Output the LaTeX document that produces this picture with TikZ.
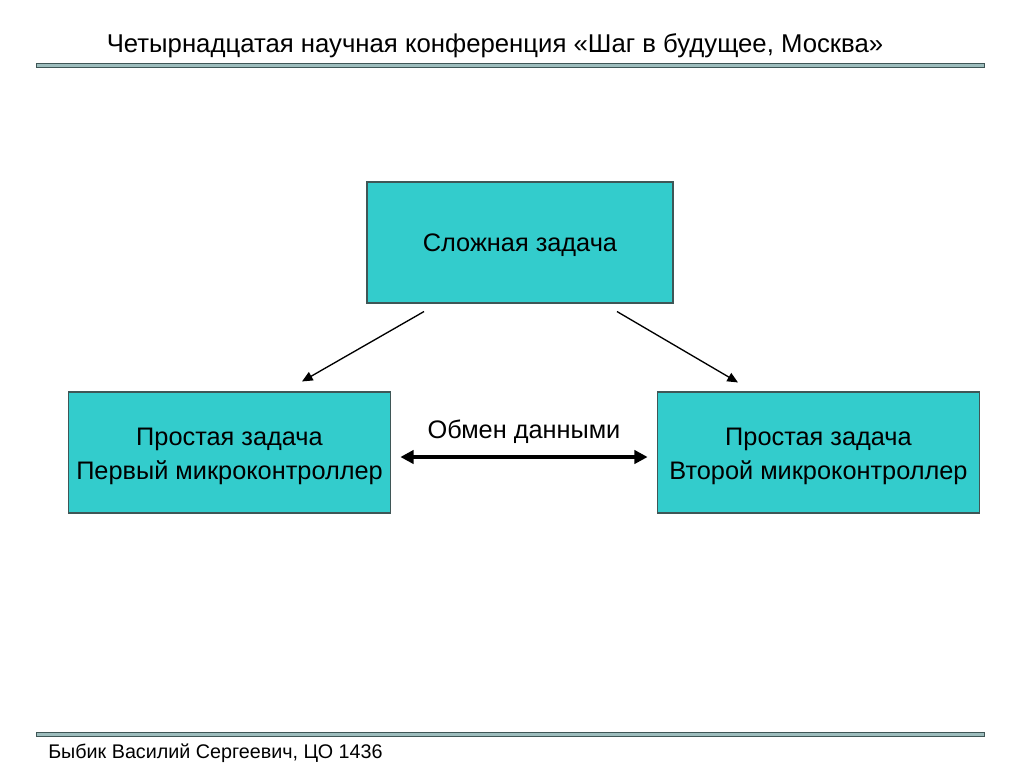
\documentclass[tikz,border=0pt]{standalone}
\usepackage{fontspec}
\setmainfont{Liberation Sans}
\usetikzlibrary{arrows.meta}
\definecolor{boxfill}{HTML}{33CCCC}
\definecolor{barfill}{HTML}{9DBDBD}
\definecolor{barline}{HTML}{3F5656}

\begin{document}
\begin{tikzpicture}[x=0.75pt,y=-0.75pt,
        task/.style={draw=barline,fill=boxfill,line width=0.8pt,align=center,font=\fontsize{19}{24}\selectfont,inner sep=0pt},
        bar/.style={draw=barline,fill=barfill,line width=0.7pt},
        arrow/.style={-{Triangle[length=8pt,width=7pt]},line width=1pt},
        exchange/.style={{Triangle[length=10pt,width=10pt]}-{Triangle[length=10pt,width=10pt]},line width=2.8pt}]

        \fill[white] (0,0) rectangle (1024,768);

        \node[font=\fontsize{19.3}{23}\selectfont] (title) at (495,46) {Четырнадцатая научная конференция «Шаг в будущее, Москва»};
        \draw[bar] (36,63) rectangle (984,67);
        \draw[bar] (36,732) rectangle (984,736);
        \node[font=\fontsize{14.8}{18}\selectfont,anchor=west,inner sep=0pt] (author) at (48,753) {Быбик Василий Сергеевич, ЦО 1436};

        \node[task,minimum width=229.5pt,minimum height=90.75pt,text height=18pt] (complex) at (520,242.5) {Сложная задача};
        \node[task,minimum width=242pt,minimum height=90.75pt,text height=44pt] (first) at (229.5,452.5) {Простая задача\\[1.5pt]Первый микроконтроллер};
        \node[task,minimum width=242pt,minimum height=90.75pt,text height=44pt] (second) at (818.5,452.5) {Простая задача\\[1.5pt]Второй микроконтроллер};

        \draw[arrow] ([shift={(-96,8)}]complex.south) -- ([shift={(72.5,-10)}]first.north);
        \draw[arrow] ([shift={(97,8)}]complex.south) -- ([shift={(-80.5,-9)}]second.north);
        \draw[exchange] ([shift={(9,4.5)}]first.east) -- ([shift={(-9,4.5)}]second.west)
            node[midway,above=5pt,font=\fontsize{19}{23}\selectfont] (label) {Обмен данными};
    \end{tikzpicture}
\end{document}
